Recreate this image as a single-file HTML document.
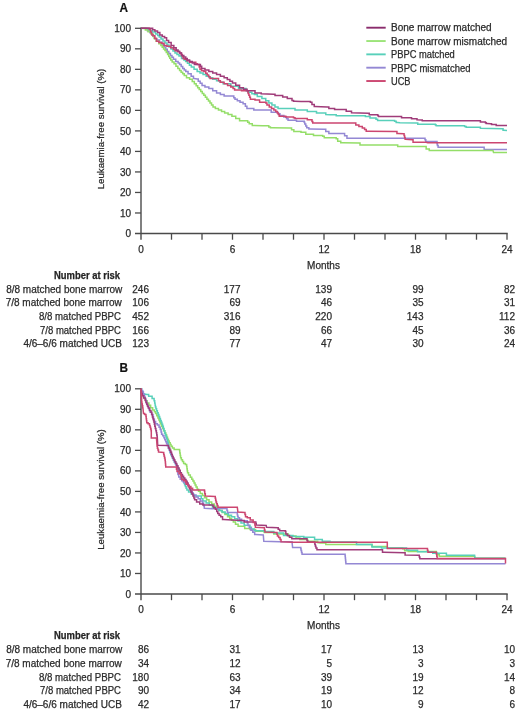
<!DOCTYPE html>
<html><head><meta charset="utf-8"><style>
html,body{margin:0;padding:0;background:#fff;}
svg{display:block;font-family:"Liberation Sans",sans-serif;will-change:transform;}
text{stroke:#2b2b2b;stroke-width:0.25px;}
</style></head><body>
<svg width="520" height="713" viewBox="0 0 520 713">
<rect width="520" height="713" fill="#fff"/>
<g transform="translate(0,0)">
<text transform="translate(119.6,11.6) scale(0.88,1)" x="0" y="0" font-weight="bold" font-size="13.4" fill="#111">A</text>
<line x1="141.0" y1="27.6" x2="141.0" y2="239.70000000000002" stroke="#4a4a4a" stroke-width="1.4"/>
<line x1="135.0" y1="233.50000000000003" x2="507.7" y2="233.50000000000003" stroke="#4a4a4a" stroke-width="1.4"/>
<line x1="135.0" y1="212.98000000000002" x2="141.0" y2="212.98000000000002" stroke="#4a4a4a" stroke-width="1.3"/>
<line x1="135.0" y1="192.46" x2="141.0" y2="192.46" stroke="#4a4a4a" stroke-width="1.3"/>
<line x1="135.0" y1="171.94000000000003" x2="141.0" y2="171.94000000000003" stroke="#4a4a4a" stroke-width="1.3"/>
<line x1="135.0" y1="151.42000000000002" x2="141.0" y2="151.42000000000002" stroke="#4a4a4a" stroke-width="1.3"/>
<line x1="135.0" y1="130.9" x2="141.0" y2="130.9" stroke="#4a4a4a" stroke-width="1.3"/>
<line x1="135.0" y1="110.38" x2="141.0" y2="110.38" stroke="#4a4a4a" stroke-width="1.3"/>
<line x1="135.0" y1="89.86" x2="141.0" y2="89.86" stroke="#4a4a4a" stroke-width="1.3"/>
<line x1="135.0" y1="69.34" x2="141.0" y2="69.34" stroke="#4a4a4a" stroke-width="1.3"/>
<line x1="135.0" y1="48.82" x2="141.0" y2="48.82" stroke="#4a4a4a" stroke-width="1.3"/>
<line x1="135.0" y1="28.3" x2="141.0" y2="28.3" stroke="#4a4a4a" stroke-width="1.3"/>
<text x="131" y="237.10000000000002" text-anchor="end" font-size="10" fill="#2b2b2b">0</text>
<text x="131" y="216.58" text-anchor="end" font-size="10" fill="#2b2b2b">10</text>
<text x="131" y="196.06" text-anchor="end" font-size="10" fill="#2b2b2b">20</text>
<text x="131" y="175.54000000000002" text-anchor="end" font-size="10" fill="#2b2b2b">30</text>
<text x="131" y="155.02" text-anchor="end" font-size="10" fill="#2b2b2b">40</text>
<text x="131" y="134.5" text-anchor="end" font-size="10" fill="#2b2b2b">50</text>
<text x="131" y="113.97999999999999" text-anchor="end" font-size="10" fill="#2b2b2b">60</text>
<text x="131" y="93.46" text-anchor="end" font-size="10" fill="#2b2b2b">70</text>
<text x="131" y="72.94" text-anchor="end" font-size="10" fill="#2b2b2b">80</text>
<text x="131" y="52.42" text-anchor="end" font-size="10" fill="#2b2b2b">90</text>
<text x="131" y="31.900000000000002" text-anchor="end" font-size="10" fill="#2b2b2b">100</text>
<line x1="171.5" y1="233.50000000000003" x2="171.5" y2="239.70000000000002" stroke="#4a4a4a" stroke-width="1.3"/>
<line x1="202.0" y1="233.50000000000003" x2="202.0" y2="239.70000000000002" stroke="#4a4a4a" stroke-width="1.3"/>
<line x1="232.5" y1="233.50000000000003" x2="232.5" y2="239.70000000000002" stroke="#4a4a4a" stroke-width="1.3"/>
<line x1="263.0" y1="233.50000000000003" x2="263.0" y2="239.70000000000002" stroke="#4a4a4a" stroke-width="1.3"/>
<line x1="293.5" y1="233.50000000000003" x2="293.5" y2="239.70000000000002" stroke="#4a4a4a" stroke-width="1.3"/>
<line x1="324.0" y1="233.50000000000003" x2="324.0" y2="239.70000000000002" stroke="#4a4a4a" stroke-width="1.3"/>
<line x1="354.5" y1="233.50000000000003" x2="354.5" y2="239.70000000000002" stroke="#4a4a4a" stroke-width="1.3"/>
<line x1="385.0" y1="233.50000000000003" x2="385.0" y2="239.70000000000002" stroke="#4a4a4a" stroke-width="1.3"/>
<line x1="415.5" y1="233.50000000000003" x2="415.5" y2="239.70000000000002" stroke="#4a4a4a" stroke-width="1.3"/>
<line x1="446.0" y1="233.50000000000003" x2="446.0" y2="239.70000000000002" stroke="#4a4a4a" stroke-width="1.3"/>
<line x1="476.5" y1="233.50000000000003" x2="476.5" y2="239.70000000000002" stroke="#4a4a4a" stroke-width="1.3"/>
<line x1="507.0" y1="233.50000000000003" x2="507.0" y2="239.70000000000002" stroke="#4a4a4a" stroke-width="1.3"/>
<text x="141.0" y="252.5" text-anchor="middle" font-size="10" fill="#2b2b2b">0</text>
<text x="232.5" y="252.5" text-anchor="middle" font-size="10" fill="#2b2b2b">6</text>
<text x="324.0" y="252.5" text-anchor="middle" font-size="10" fill="#2b2b2b">12</text>
<text x="415.5" y="252.5" text-anchor="middle" font-size="10" fill="#2b2b2b">18</text>
<text x="507.0" y="252.5" text-anchor="middle" font-size="10" fill="#2b2b2b">24</text>
<text x="323.5" y="268.5" text-anchor="middle" font-size="10" fill="#2b2b2b">Months</text>
<text x="120" y="278.8" text-anchor="end" font-size="10" font-weight="bold" fill="#222" textLength="66" lengthAdjust="spacingAndGlyphs">Number at risk</text>
<text x="122.3" y="292.7" text-anchor="end" font-size="10" fill="#2b2b2b">8/8 matched bone marrow</text>
<text x="149.0" y="292.7" text-anchor="end" font-size="10" fill="#2b2b2b">246</text>
<text x="240.5" y="292.7" text-anchor="end" font-size="10" fill="#2b2b2b">177</text>
<text x="332.0" y="292.7" text-anchor="end" font-size="10" fill="#2b2b2b">139</text>
<text x="423.5" y="292.7" text-anchor="end" font-size="10" fill="#2b2b2b">99</text>
<text x="515.0" y="292.7" text-anchor="end" font-size="10" fill="#2b2b2b">82</text>
<text x="121.8" y="306.34999999999997" text-anchor="end" font-size="10" fill="#2b2b2b">7/8 matched bone marrow</text>
<text x="149.0" y="306.34999999999997" text-anchor="end" font-size="10" fill="#2b2b2b">106</text>
<text x="240.5" y="306.34999999999997" text-anchor="end" font-size="10" fill="#2b2b2b">69</text>
<text x="332.0" y="306.34999999999997" text-anchor="end" font-size="10" fill="#2b2b2b">46</text>
<text x="423.5" y="306.34999999999997" text-anchor="end" font-size="10" fill="#2b2b2b">35</text>
<text x="515.0" y="306.34999999999997" text-anchor="end" font-size="10" fill="#2b2b2b">31</text>
<text x="121" y="320.0" text-anchor="end" font-size="10" fill="#2b2b2b" textLength="82" lengthAdjust="spacingAndGlyphs">8/8 matched PBPC</text>
<text x="149.0" y="320.0" text-anchor="end" font-size="10" fill="#2b2b2b">452</text>
<text x="240.5" y="320.0" text-anchor="end" font-size="10" fill="#2b2b2b">316</text>
<text x="332.0" y="320.0" text-anchor="end" font-size="10" fill="#2b2b2b">220</text>
<text x="423.5" y="320.0" text-anchor="end" font-size="10" fill="#2b2b2b">143</text>
<text x="515.0" y="320.0" text-anchor="end" font-size="10" fill="#2b2b2b">112</text>
<text x="121" y="333.65" text-anchor="end" font-size="10" fill="#2b2b2b" textLength="81" lengthAdjust="spacingAndGlyphs">7/8 matched PBPC</text>
<text x="149.0" y="333.65" text-anchor="end" font-size="10" fill="#2b2b2b">166</text>
<text x="240.5" y="333.65" text-anchor="end" font-size="10" fill="#2b2b2b">89</text>
<text x="332.0" y="333.65" text-anchor="end" font-size="10" fill="#2b2b2b">66</text>
<text x="423.5" y="333.65" text-anchor="end" font-size="10" fill="#2b2b2b">45</text>
<text x="515.0" y="333.65" text-anchor="end" font-size="10" fill="#2b2b2b">36</text>
<text x="121.8" y="347.3" text-anchor="end" font-size="10" fill="#2b2b2b">4/6–6/6 matched UCB</text>
<text x="149.0" y="347.3" text-anchor="end" font-size="10" fill="#2b2b2b">123</text>
<text x="240.5" y="347.3" text-anchor="end" font-size="10" fill="#2b2b2b">77</text>
<text x="332.0" y="347.3" text-anchor="end" font-size="10" fill="#2b2b2b">47</text>
<text x="423.5" y="347.3" text-anchor="end" font-size="10" fill="#2b2b2b">30</text>
<text x="515.0" y="347.3" text-anchor="end" font-size="10" fill="#2b2b2b">24</text>
<text transform="translate(103.8,129) rotate(-90)" text-anchor="middle" font-size="9.7" fill="#2b2b2b">Leukaemia-free survival (%)</text>
</g>
<path d="M141.00,28.30 146.00,28.30 146.00,29.00 147.50,29.00 147.50,31.00 149.00,31.00 149.88,31.00 149.88,32.80 151.62,32.80 151.62,34.60 152.50,34.60 153.22,34.60 153.22,36.55 154.68,36.55 154.68,38.50 155.40,38.50 156.70,38.50 156.70,40.00 158.00,40.00 159.50,40.00 159.50,42.30 161.00,42.30 162.00,42.30 162.00,44.65 164.00,44.65 164.00,47.00 165.00,47.00 165.75,47.00 165.75,49.25 167.25,49.25 167.25,51.50 168.00,51.50 168.80,51.50 168.80,53.45 170.40,53.45 170.40,55.40 171.20,55.40 171.95,55.40 171.95,57.30 173.45,57.30 173.45,59.20 174.20,59.20 175.75,59.20 175.75,61.50 177.30,61.50 178.08,61.50 178.08,63.05 179.62,63.05 179.62,64.60 180.40,64.60 181.18,64.60 181.18,66.55 182.72,66.55 182.72,68.50 183.50,68.50 184.25,68.50 184.25,70.00 185.75,70.00 185.75,71.50 186.50,71.50 188.05,71.50 188.05,73.80 189.60,73.80 191.15,73.80 191.15,76.20 192.70,76.20 193.45,76.20 193.45,78.50 194.20,78.50 197.30,79.00 198.25,79.00 198.25,81.13 200.15,81.13 200.15,83.27 202.05,83.27 202.05,85.40 203.00,85.40 204.95,85.40 204.95,86.95 208.85,86.95 208.85,88.50 210.80,88.50 212.73,88.50 212.73,90.75 216.57,90.75 216.57,93.00 218.50,93.00 220.38,93.00 220.38,94.50 224.12,94.50 224.12,96.00 226.00,96.00 233.80,96.00 233.80,97.70 234.98,97.70 234.98,99.25 237.32,99.25 237.32,100.80 238.50,100.80 240.03,100.80 240.03,102.30 243.07,102.30 243.07,103.80 244.60,103.80 245.38,103.80 245.38,106.15 246.92,106.15 246.92,108.50 247.70,108.50 253.80,108.50 253.80,110.00 270.40,110.00 271.20,110.00 271.20,112.30 272.00,112.30 278.00,112.30 278.00,113.80 279.95,113.80 279.95,115.40 283.85,115.40 283.85,117.00 285.80,117.00 286.55,117.00 286.55,118.65 288.05,118.65 288.05,120.30 288.80,120.30 296.50,120.30 296.50,121.20 304.20,121.20 304.20,122.30 304.72,122.30 304.72,124.10 305.75,124.10 305.75,125.90 306.78,125.90 306.78,127.70 307.30,127.70 308.85,127.70 308.85,129.00 310.40,129.00 324.20,129.20 325.75,129.20 325.75,131.50 327.30,131.50 328.85,131.50 328.85,133.50 330.40,133.50 343.80,133.50 344.60,133.50 344.60,135.80 345.40,135.80 346.95,135.80 346.95,138.20 348.50,138.20 424.60,138.20 425.00,138.20 425.00,139.85 425.80,139.85 425.80,141.50 426.20,141.50 437.00,141.50 437.00,143.80 437.38,143.80 437.38,145.50 438.12,145.50 438.12,147.20 438.50,147.20 483.80,147.20 484.15,147.20 484.15,149.60 484.50,149.60 507.00,149.60" fill="none" stroke="#9488d4" stroke-width="1.5" stroke-linejoin="miter"/>
<path d="M141.00,28.30 144.00,28.40 145.35,28.40 145.35,30.00 146.70,30.00 148.05,30.00 148.05,31.70 149.40,31.70 150.75,31.70 150.75,33.70 152.10,33.70 152.78,33.70 152.78,36.10 154.12,36.10 154.12,38.50 154.80,38.50 156.15,38.50 156.15,41.20 157.50,41.20 158.85,41.20 158.85,43.80 160.20,43.80 160.88,43.80 160.88,45.50 162.22,45.50 162.22,47.20 162.90,47.20 163.57,47.20 163.57,48.90 164.93,48.90 164.93,50.60 165.60,50.60 166.28,50.60 166.28,52.60 167.62,52.60 167.62,54.60 168.30,54.60 168.78,54.60 168.78,56.40 169.75,56.40 169.75,58.20 170.72,58.20 170.72,60.00 171.20,60.00 172.15,60.00 172.15,61.90 174.05,61.90 174.05,63.80 175.00,63.80 175.95,63.80 175.95,66.15 177.85,66.15 177.85,68.50 178.80,68.50 179.58,68.50 179.58,70.40 181.12,70.40 181.12,72.30 181.90,72.30 182.68,72.30 182.68,73.85 184.22,73.85 184.22,75.40 185.00,75.40 186.50,75.40 186.50,77.70 188.00,77.70 189.60,77.70 189.60,79.20 191.20,79.20 192.25,79.20 192.25,81.50 194.35,81.50 194.35,83.80 195.40,83.80 196.16,83.80 196.16,85.72 197.69,85.72 197.69,87.65 199.21,87.65 199.21,89.58 200.74,89.58 200.74,91.50 201.50,91.50 202.28,91.50 202.28,93.42 203.82,93.42 203.82,95.35 205.38,95.35 205.38,97.28 206.92,97.28 206.92,99.20 207.70,99.20 208.46,99.20 208.46,101.12 209.99,101.12 209.99,103.05 211.51,103.05 211.51,104.98 213.04,104.98 213.04,106.90 213.80,106.90 215.35,106.90 215.35,108.45 218.45,108.45 218.45,110.00 220.00,110.00 221.55,110.00 221.55,111.50 224.65,111.50 224.65,113.00 226.20,113.00 228.10,113.00 228.10,114.60 231.90,114.60 231.90,116.20 233.80,116.20 235.73,116.20 235.73,118.50 239.57,118.50 239.57,120.80 241.50,120.80 247.70,120.80 247.70,122.30 249.22,122.30 249.22,123.85 252.28,123.85 252.28,125.40 253.80,125.40 262.70,125.80 268.80,125.80 268.80,127.00 270.40,127.00 270.40,127.70 272.00,127.70 290.40,128.00 291.55,128.00 291.55,129.75 293.85,129.75 293.85,131.50 295.00,131.50 301.00,131.50 301.00,132.30 305.80,132.30 305.80,134.20 313.50,134.20 313.50,135.40 322.70,135.40 322.70,136.20 324.25,136.20 324.25,137.70 325.80,137.70 330.00,137.80 336.20,137.80 336.20,138.80 337.70,138.80 337.70,141.20 339.20,141.20 340.75,141.20 340.75,142.70 342.30,142.70 359.20,143.00 360.00,143.00 360.00,145.00 360.80,145.00 396.20,145.00 397.70,145.00 397.70,146.50 399.20,146.50 424.60,146.50 426.15,146.50 426.15,149.00 427.70,149.00 429.25,149.00 429.25,150.50 430.80,150.50 493.00,150.50 493.50,152.50 507.00,152.50" fill="none" stroke="#94de68" stroke-width="1.5" stroke-linejoin="miter"/>
<path d="M141.00,28.30 148.00,28.30 148.00,29.00 149.50,29.00 149.50,30.50 151.00,30.50 152.50,30.50 152.50,32.00 154.00,32.00 155.50,32.00 155.50,34.00 157.00,34.00 157.75,34.00 157.75,35.50 159.25,35.50 159.25,37.00 160.00,37.00 161.00,37.00 161.00,39.00 163.00,39.00 163.00,41.00 164.00,41.00 165.00,41.00 165.00,43.00 167.00,43.00 167.00,45.00 168.00,45.00 169.00,45.00 169.00,47.00 171.00,47.00 171.00,49.00 172.00,49.00 173.00,49.00 173.00,51.00 175.00,51.00 175.00,53.00 176.00,53.00 177.00,53.00 177.00,54.50 179.00,54.50 179.00,56.00 180.00,56.00 181.50,56.00 181.50,58.50 183.00,58.50 183.88,58.50 183.88,60.00 185.62,60.00 185.62,61.50 186.50,61.50 187.47,61.50 187.47,63.33 189.40,63.33 189.40,65.17 191.33,65.17 191.33,67.00 192.30,67.00 194.05,67.00 194.05,69.20 195.80,69.20 197.15,69.20 197.15,71.50 198.50,71.50 200.03,71.50 200.03,73.05 203.07,73.05 203.07,74.60 204.60,74.60 206.15,74.60 206.15,76.15 209.25,76.15 209.25,77.70 210.80,77.70 212.73,77.70 212.73,79.25 216.57,79.25 216.57,80.80 218.50,80.80 220.03,80.80 220.03,82.30 223.07,82.30 223.07,83.80 224.60,83.80 230.80,83.80 230.80,86.20 238.50,86.20 238.50,88.50 246.00,88.50 246.00,90.80 247.95,90.80 247.95,92.30 251.85,92.30 251.85,93.80 253.80,93.80 254.40,93.80 254.40,94.60 255.00,94.60 257.30,94.60 257.30,96.55 261.90,96.55 261.90,98.50 264.20,98.50 265.75,98.50 265.75,100.75 268.85,100.75 268.85,103.00 270.40,103.00 271.92,103.00 271.92,105.00 274.98,105.00 274.98,107.00 276.50,107.00 278.05,107.00 278.05,108.50 279.60,108.50 295.00,108.50 295.00,110.00 307.30,110.00 307.30,111.50 316.50,111.50 316.50,113.00 325.80,113.00 325.80,114.60 330.00,114.70 336.20,114.70 336.20,115.80 365.40,115.80 365.40,116.50 370.00,116.50 370.00,118.00 376.00,118.00 376.00,119.30 377.60,119.30 377.60,120.40 379.20,120.40 394.60,120.40 394.60,121.20 396.15,121.20 396.15,122.40 397.70,122.40 400.00,122.80 417.00,123.00 417.75,123.00 417.75,124.30 418.50,124.30 435.40,124.30 435.40,125.00 436.20,125.00 436.20,125.80 437.00,125.80 464.60,125.80 464.60,126.50 466.15,126.50 466.15,127.30 467.70,127.30 480.00,127.30 480.40,127.30 480.40,128.30 480.80,128.30 502.30,128.80 503.05,128.80 503.05,130.20 503.80,130.20 507.00,130.40" fill="none" stroke="#58d0ba" stroke-width="1.5" stroke-linejoin="miter"/>
<path d="M141.00,28.30 148.50,28.30 149.25,28.30 149.25,29.60 150.00,29.60 150.60,29.60 150.60,32.00 151.20,32.00 151.42,32.00 151.42,33.55 151.88,33.55 151.88,35.10 152.10,35.10 153.10,35.10 153.10,35.80 154.10,35.80 154.80,35.80 154.80,38.50 155.50,38.50 156.50,38.50 156.50,41.20 157.50,41.20 158.85,41.20 158.85,42.50 160.20,42.50 161.60,42.50 161.60,43.30 163.00,43.30 164.00,43.30 164.00,45.40 165.00,45.40 166.90,45.40 166.90,46.20 168.80,46.20 170.75,46.20 170.75,47.70 172.70,47.70 173.47,47.70 173.47,49.25 175.03,49.25 175.03,50.80 175.80,50.80 177.30,50.80 177.30,51.50 178.80,51.50 179.58,51.50 179.58,53.05 181.12,53.05 181.12,54.60 181.90,54.60 182.30,54.60 182.30,56.55 183.10,56.55 183.10,58.50 183.50,58.50 184.65,58.50 184.65,59.20 185.80,59.20 186.90,59.20 186.90,60.80 188.00,60.80 189.60,60.80 189.60,62.30 191.20,62.30 195.80,62.30 195.80,63.80 197.30,63.80 197.30,64.60 198.80,64.60 199.20,64.60 199.20,66.90 200.00,66.90 200.00,69.20 200.40,69.20 201.55,69.20 201.55,70.80 202.70,70.80 203.85,70.80 203.85,71.50 205.00,71.50 205.72,71.50 205.72,73.25 207.18,73.25 207.18,75.00 208.62,75.00 208.62,76.75 210.08,76.75 210.08,78.50 210.80,78.50 218.50,78.50 218.50,80.80 220.38,80.80 220.38,82.30 224.12,82.30 224.12,83.80 226.00,83.80 227.57,83.80 227.57,85.40 230.73,85.40 230.73,87.00 232.30,87.00 233.08,87.00 233.08,88.50 234.62,88.50 234.62,90.00 235.40,90.00 241.50,90.00 241.50,90.80 247.70,90.80 247.70,91.50 248.09,91.50 248.09,93.42 248.86,93.42 248.86,95.35 249.64,95.35 249.64,97.28 250.41,97.28 250.41,99.20 250.80,99.20 255.00,99.20 255.00,100.00 259.60,100.00 259.60,102.30 265.80,102.30 265.80,103.00 266.95,103.00 266.95,105.00 269.25,105.00 269.25,107.00 270.40,107.00 271.55,107.00 271.55,108.50 273.85,108.50 273.85,110.00 275.00,110.00 275.75,110.00 275.75,111.50 277.25,111.50 277.25,113.00 278.00,113.00 278.40,113.00 278.40,114.60 279.20,114.60 279.20,116.20 279.60,116.20 285.80,116.20 285.80,117.00 293.50,117.00 293.50,117.70 295.00,117.70 295.00,118.50 296.50,118.50 307.30,118.50 307.30,119.70 312.00,119.70 312.00,121.50 312.75,121.50 312.75,123.00 313.50,123.00 354.60,123.00 355.80,123.00 355.80,125.00 357.00,125.00 358.90,125.00 358.90,126.50 360.80,126.50 362.30,126.50 362.30,128.00 363.80,128.00 364.60,128.00 364.60,129.60 366.20,129.60 366.20,131.20 367.00,131.20 396.20,131.50 396.95,131.50 396.95,133.50 397.70,133.50 403.80,133.80 404.07,133.80 404.07,135.60 404.60,135.60 404.60,137.40 405.13,137.40 405.13,139.20 405.40,139.20 412.30,139.70 413.05,139.70 413.05,142.30 413.80,142.30 426.20,142.30 427.70,142.80 507.00,142.80" fill="none" stroke="#cc4670" stroke-width="1.5" stroke-linejoin="miter"/>
<path d="M141.00,28.30 151.80,28.30 152.65,28.30 152.65,29.70 153.50,29.70 154.85,29.70 154.85,31.00 156.20,31.00 157.50,31.00 157.50,32.40 158.80,32.40 159.85,32.40 159.85,35.10 160.90,35.10 162.25,35.10 162.25,36.40 163.60,36.40 164.60,36.40 164.60,37.80 165.60,37.80 166.60,37.80 166.60,40.50 167.60,40.50 168.60,40.50 168.60,42.50 169.60,42.50 171.15,42.50 171.15,45.40 172.70,45.40 173.85,45.40 173.85,47.70 175.00,47.70 176.15,47.70 176.15,50.00 177.30,50.00 178.08,50.00 178.08,51.50 179.62,51.50 179.62,53.00 180.40,53.00 181.55,53.00 181.55,55.40 182.70,55.40 183.85,55.40 183.85,57.00 185.00,57.00 185.75,57.00 185.75,58.50 187.25,58.50 187.25,60.00 188.00,60.00 189.60,60.00 189.60,61.50 191.20,61.50 192.25,61.50 192.25,63.05 194.35,63.05 194.35,64.60 195.40,64.60 200.40,64.60 200.40,66.20 201.70,66.20 201.70,68.50 203.00,68.50 204.95,68.50 204.95,70.00 208.85,70.00 208.85,71.50 210.80,71.50 212.73,71.50 212.73,73.05 216.57,73.05 216.57,74.60 218.50,74.60 220.38,74.60 220.38,76.15 224.12,76.15 224.12,77.70 226.00,77.70 227.30,77.70 227.30,79.47 229.90,79.47 229.90,81.23 232.50,81.23 232.50,83.00 233.80,83.00 235.73,83.00 235.73,85.35 239.57,85.35 239.57,87.70 241.50,87.70 243.38,87.70 243.38,89.25 247.12,89.25 247.12,90.80 249.00,90.80 255.00,90.80 255.00,93.10 261.20,93.10 261.20,93.80 273.50,94.20 275.00,94.20 275.00,95.40 276.50,95.40 282.70,95.40 282.70,97.00 287.30,97.00 287.30,98.50 292.00,98.50 292.00,100.50 293.50,100.50 293.50,101.20 295.00,101.20 301.00,101.50 310.40,101.50 310.40,102.30 311.95,102.30 311.95,104.60 313.50,104.60 314.25,104.60 314.25,106.50 315.00,106.50 327.30,107.00 328.85,107.00 328.85,108.50 330.40,108.50 334.60,108.50 334.60,109.60 345.40,109.60 346.20,109.60 346.20,111.20 347.00,111.20 351.50,111.20 351.50,112.70 368.50,113.20 369.25,113.20 369.25,114.70 370.00,114.70 377.70,114.70 377.70,115.50 378.45,115.50 378.45,116.50 379.20,116.50 400.80,116.50 401.55,116.50 401.55,117.80 402.30,117.80 410.80,117.70 411.55,117.70 411.55,118.80 412.30,118.80 417.00,118.80 417.00,119.70 421.50,120.00 422.25,120.00 422.25,120.80 423.00,120.80 480.00,120.80 480.40,120.80 480.40,121.90 480.80,121.90 485.40,121.90 485.40,122.70 486.20,122.70 486.20,123.50 487.00,123.50 490.80,123.80 491.55,123.80 491.55,124.60 492.30,124.60 495.40,124.60 496.20,124.60 496.20,125.40 497.00,125.40 507.00,125.40" fill="none" stroke="#a03c7a" stroke-width="1.5" stroke-linejoin="miter"/>
<line x1="366.3" y1="27.7" x2="385.7" y2="27.7" stroke="#8a2c6c" stroke-width="1.9"/>
<text x="391" y="31.0" font-size="10" fill="#2b2b2b">Bone marrow matched</text>
<line x1="366.3" y1="41.03" x2="385.7" y2="41.03" stroke="#9ce47a" stroke-width="1.9"/>
<text x="391" y="44.5" font-size="10" fill="#2b2b2b">Bone marrow mismatched</text>
<line x1="366.3" y1="54.36" x2="385.7" y2="54.36" stroke="#58d0ba" stroke-width="1.9"/>
<text x="391" y="58.0" font-size="10" fill="#2b2b2b" textLength="63.8" lengthAdjust="spacingAndGlyphs">PBPC matched</text>
<line x1="366.3" y1="67.69" x2="385.7" y2="67.69" stroke="#9488d4" stroke-width="1.9"/>
<text x="391" y="71.5" font-size="10" fill="#2b2b2b" textLength="79.5" lengthAdjust="spacingAndGlyphs">PBPC mismatched</text>
<line x1="366.3" y1="81.02" x2="385.7" y2="81.02" stroke="#cc4670" stroke-width="1.9"/>
<text x="391" y="85.0" font-size="10" fill="#2b2b2b" textLength="19.5" lengthAdjust="spacingAndGlyphs">UCB</text>
<g transform="translate(0,360.5)">
<text transform="translate(119.6,11.6) scale(0.88,1)" x="0" y="0" font-weight="bold" font-size="13.4" fill="#111">B</text>
<line x1="141.0" y1="27.6" x2="141.0" y2="239.70000000000002" stroke="#4a4a4a" stroke-width="1.4"/>
<line x1="135.0" y1="233.50000000000003" x2="507.7" y2="233.50000000000003" stroke="#4a4a4a" stroke-width="1.4"/>
<line x1="135.0" y1="212.98000000000002" x2="141.0" y2="212.98000000000002" stroke="#4a4a4a" stroke-width="1.3"/>
<line x1="135.0" y1="192.46" x2="141.0" y2="192.46" stroke="#4a4a4a" stroke-width="1.3"/>
<line x1="135.0" y1="171.94000000000003" x2="141.0" y2="171.94000000000003" stroke="#4a4a4a" stroke-width="1.3"/>
<line x1="135.0" y1="151.42000000000002" x2="141.0" y2="151.42000000000002" stroke="#4a4a4a" stroke-width="1.3"/>
<line x1="135.0" y1="130.9" x2="141.0" y2="130.9" stroke="#4a4a4a" stroke-width="1.3"/>
<line x1="135.0" y1="110.38" x2="141.0" y2="110.38" stroke="#4a4a4a" stroke-width="1.3"/>
<line x1="135.0" y1="89.86" x2="141.0" y2="89.86" stroke="#4a4a4a" stroke-width="1.3"/>
<line x1="135.0" y1="69.34" x2="141.0" y2="69.34" stroke="#4a4a4a" stroke-width="1.3"/>
<line x1="135.0" y1="48.82" x2="141.0" y2="48.82" stroke="#4a4a4a" stroke-width="1.3"/>
<line x1="135.0" y1="28.3" x2="141.0" y2="28.3" stroke="#4a4a4a" stroke-width="1.3"/>
<text x="131" y="237.10000000000002" text-anchor="end" font-size="10" fill="#2b2b2b">0</text>
<text x="131" y="216.58" text-anchor="end" font-size="10" fill="#2b2b2b">10</text>
<text x="131" y="196.06" text-anchor="end" font-size="10" fill="#2b2b2b">20</text>
<text x="131" y="175.54000000000002" text-anchor="end" font-size="10" fill="#2b2b2b">30</text>
<text x="131" y="155.02" text-anchor="end" font-size="10" fill="#2b2b2b">40</text>
<text x="131" y="134.5" text-anchor="end" font-size="10" fill="#2b2b2b">50</text>
<text x="131" y="113.97999999999999" text-anchor="end" font-size="10" fill="#2b2b2b">60</text>
<text x="131" y="93.46" text-anchor="end" font-size="10" fill="#2b2b2b">70</text>
<text x="131" y="72.94" text-anchor="end" font-size="10" fill="#2b2b2b">80</text>
<text x="131" y="52.42" text-anchor="end" font-size="10" fill="#2b2b2b">90</text>
<text x="131" y="31.900000000000002" text-anchor="end" font-size="10" fill="#2b2b2b">100</text>
<line x1="171.5" y1="233.50000000000003" x2="171.5" y2="239.70000000000002" stroke="#4a4a4a" stroke-width="1.3"/>
<line x1="202.0" y1="233.50000000000003" x2="202.0" y2="239.70000000000002" stroke="#4a4a4a" stroke-width="1.3"/>
<line x1="232.5" y1="233.50000000000003" x2="232.5" y2="239.70000000000002" stroke="#4a4a4a" stroke-width="1.3"/>
<line x1="263.0" y1="233.50000000000003" x2="263.0" y2="239.70000000000002" stroke="#4a4a4a" stroke-width="1.3"/>
<line x1="293.5" y1="233.50000000000003" x2="293.5" y2="239.70000000000002" stroke="#4a4a4a" stroke-width="1.3"/>
<line x1="324.0" y1="233.50000000000003" x2="324.0" y2="239.70000000000002" stroke="#4a4a4a" stroke-width="1.3"/>
<line x1="354.5" y1="233.50000000000003" x2="354.5" y2="239.70000000000002" stroke="#4a4a4a" stroke-width="1.3"/>
<line x1="385.0" y1="233.50000000000003" x2="385.0" y2="239.70000000000002" stroke="#4a4a4a" stroke-width="1.3"/>
<line x1="415.5" y1="233.50000000000003" x2="415.5" y2="239.70000000000002" stroke="#4a4a4a" stroke-width="1.3"/>
<line x1="446.0" y1="233.50000000000003" x2="446.0" y2="239.70000000000002" stroke="#4a4a4a" stroke-width="1.3"/>
<line x1="476.5" y1="233.50000000000003" x2="476.5" y2="239.70000000000002" stroke="#4a4a4a" stroke-width="1.3"/>
<line x1="507.0" y1="233.50000000000003" x2="507.0" y2="239.70000000000002" stroke="#4a4a4a" stroke-width="1.3"/>
<text x="141.0" y="252.5" text-anchor="middle" font-size="10" fill="#2b2b2b">0</text>
<text x="232.5" y="252.5" text-anchor="middle" font-size="10" fill="#2b2b2b">6</text>
<text x="324.0" y="252.5" text-anchor="middle" font-size="10" fill="#2b2b2b">12</text>
<text x="415.5" y="252.5" text-anchor="middle" font-size="10" fill="#2b2b2b">18</text>
<text x="507.0" y="252.5" text-anchor="middle" font-size="10" fill="#2b2b2b">24</text>
<text x="323.5" y="268.5" text-anchor="middle" font-size="10" fill="#2b2b2b">Months</text>
<text x="120" y="278.8" text-anchor="end" font-size="10" font-weight="bold" fill="#222" textLength="66" lengthAdjust="spacingAndGlyphs">Number at risk</text>
<text x="122.3" y="292.7" text-anchor="end" font-size="10" fill="#2b2b2b">8/8 matched bone marrow</text>
<text x="149.0" y="292.7" text-anchor="end" font-size="10" fill="#2b2b2b">86</text>
<text x="240.5" y="292.7" text-anchor="end" font-size="10" fill="#2b2b2b">31</text>
<text x="332.0" y="292.7" text-anchor="end" font-size="10" fill="#2b2b2b">17</text>
<text x="423.5" y="292.7" text-anchor="end" font-size="10" fill="#2b2b2b">13</text>
<text x="515.0" y="292.7" text-anchor="end" font-size="10" fill="#2b2b2b">10</text>
<text x="121.8" y="306.34999999999997" text-anchor="end" font-size="10" fill="#2b2b2b">7/8 matched bone marrow</text>
<text x="149.0" y="306.34999999999997" text-anchor="end" font-size="10" fill="#2b2b2b">34</text>
<text x="240.5" y="306.34999999999997" text-anchor="end" font-size="10" fill="#2b2b2b">12</text>
<text x="332.0" y="306.34999999999997" text-anchor="end" font-size="10" fill="#2b2b2b">5</text>
<text x="423.5" y="306.34999999999997" text-anchor="end" font-size="10" fill="#2b2b2b">3</text>
<text x="515.0" y="306.34999999999997" text-anchor="end" font-size="10" fill="#2b2b2b">3</text>
<text x="121" y="320.0" text-anchor="end" font-size="10" fill="#2b2b2b" textLength="82" lengthAdjust="spacingAndGlyphs">8/8 matched PBPC</text>
<text x="149.0" y="320.0" text-anchor="end" font-size="10" fill="#2b2b2b">180</text>
<text x="240.5" y="320.0" text-anchor="end" font-size="10" fill="#2b2b2b">63</text>
<text x="332.0" y="320.0" text-anchor="end" font-size="10" fill="#2b2b2b">39</text>
<text x="423.5" y="320.0" text-anchor="end" font-size="10" fill="#2b2b2b">19</text>
<text x="515.0" y="320.0" text-anchor="end" font-size="10" fill="#2b2b2b">14</text>
<text x="121" y="333.65" text-anchor="end" font-size="10" fill="#2b2b2b" textLength="81" lengthAdjust="spacingAndGlyphs">7/8 matched PBPC</text>
<text x="149.0" y="333.65" text-anchor="end" font-size="10" fill="#2b2b2b">90</text>
<text x="240.5" y="333.65" text-anchor="end" font-size="10" fill="#2b2b2b">34</text>
<text x="332.0" y="333.65" text-anchor="end" font-size="10" fill="#2b2b2b">19</text>
<text x="423.5" y="333.65" text-anchor="end" font-size="10" fill="#2b2b2b">12</text>
<text x="515.0" y="333.65" text-anchor="end" font-size="10" fill="#2b2b2b">8</text>
<text x="121.8" y="347.3" text-anchor="end" font-size="10" fill="#2b2b2b">4/6–6/6 matched UCB</text>
<text x="149.0" y="347.3" text-anchor="end" font-size="10" fill="#2b2b2b">42</text>
<text x="240.5" y="347.3" text-anchor="end" font-size="10" fill="#2b2b2b">17</text>
<text x="332.0" y="347.3" text-anchor="end" font-size="10" fill="#2b2b2b">10</text>
<text x="423.5" y="347.3" text-anchor="end" font-size="10" fill="#2b2b2b">9</text>
<text x="515.0" y="347.3" text-anchor="end" font-size="10" fill="#2b2b2b">6</text>
<text transform="translate(103.8,129) rotate(-90)" text-anchor="middle" font-size="9.7" fill="#2b2b2b">Leukaemia-free survival (%)</text>
</g>
<path d="M141.00,388.80 141.25,388.80 141.25,390.90 141.75,390.90 141.75,393.00 142.00,393.00 142.43,393.00 142.43,394.83 143.30,394.83 143.30,396.67 144.17,396.67 144.17,398.50 144.60,398.50 145.45,398.50 145.45,400.75 147.15,400.75 147.15,403.00 148.00,403.00 148.88,403.00 148.88,405.35 150.62,405.35 150.62,407.70 151.50,407.70 152.65,407.70 152.65,410.00 153.80,410.00 154.40,410.00 154.40,411.75 155.60,411.75 155.60,413.50 156.20,413.50 156.77,413.50 156.77,415.75 157.93,415.75 157.93,418.00 158.50,418.00 158.88,418.00 158.88,419.93 159.65,419.93 159.65,421.87 160.42,421.87 160.42,423.80 160.80,423.80 161.35,423.80 161.35,426.15 162.45,426.15 162.45,428.50 163.00,428.50 163.60,428.50 163.60,430.75 164.80,430.75 164.80,433.00 165.40,433.00 165.83,433.00 165.83,435.07 166.70,435.07 166.70,437.13 167.57,437.13 167.57,439.20 168.00,439.20 168.44,439.20 168.44,440.95 169.31,440.95 169.31,442.70 170.19,442.70 170.19,444.45 171.06,444.45 171.06,446.20 171.50,446.20 172.38,446.20 172.38,447.90 174.12,447.90 174.12,449.60 175.00,449.60 179.60,449.60 179.60,450.80 179.80,450.80 179.80,453.10 180.20,453.10 180.20,455.40 180.60,455.40 180.60,457.70 180.80,457.70 181.37,457.70 181.37,459.63 182.50,459.63 182.50,461.57 183.63,461.57 183.63,463.50 184.20,463.50 185.35,463.50 185.35,464.60 186.50,464.60 186.65,464.60 186.65,466.62 186.95,466.62 186.95,468.65 187.25,468.65 187.25,470.68 187.55,470.68 187.55,472.70 187.70,472.70 188.57,472.70 188.57,475.00 190.32,475.00 190.32,477.30 191.20,477.30 191.77,477.30 191.77,479.20 192.90,479.20 192.90,481.10 194.03,481.10 194.03,483.00 194.60,483.00 195.07,483.00 195.07,485.00 196.03,485.00 196.03,487.00 196.50,487.00 197.18,487.00 197.18,489.15 198.52,489.15 198.52,491.30 199.20,491.30 200.27,491.30 200.27,493.45 202.43,493.45 202.43,495.60 203.50,495.60 204.55,495.60 204.55,497.70 206.65,497.70 206.65,499.80 207.70,499.80 209.02,499.80 209.02,501.90 211.68,501.90 211.68,504.00 213.00,504.00 214.32,504.00 214.32,506.15 216.98,506.15 216.98,508.30 218.30,508.30 219.62,508.30 219.62,510.40 222.28,510.40 222.28,512.50 223.60,512.50 224.93,512.50 224.93,514.60 227.57,514.60 227.57,516.70 228.90,516.70 229.78,516.70 229.78,518.47 231.55,518.47 231.55,520.23 233.32,520.23 233.32,522.00 234.20,522.00 235.50,522.00 235.50,524.15 238.10,524.15 238.10,526.30 239.40,526.30 244.70,526.30 244.70,528.40 250.00,528.40 250.00,529.40 255.60,529.40 255.60,531.20 264.20,531.20 264.20,532.60 273.80,532.60 273.80,534.00 288.30,534.00 288.30,536.00 296.00,536.00 296.00,538.00 299.88,538.00 299.88,539.60 307.62,539.60 307.62,541.20 311.50,541.20 317.70,541.20 317.70,542.70 320.00,543.00 325.80,543.00 325.80,544.60 356.50,544.60 372.00,544.60 372.00,546.50 387.30,546.50 387.30,547.90 402.70,547.90 402.70,548.80 404.60,548.80 404.60,550.80 406.50,550.80 408.25,550.80 408.25,551.50 410.00,551.50 436.30,551.50 436.30,553.30 437.30,553.30 437.30,554.80 439.30,554.80 439.30,556.30 440.30,556.30 474.60,556.30 475.00,558.20 505.50,558.20" fill="none" stroke="#94de68" stroke-width="1.5" stroke-linejoin="miter"/>
<path d="M141.00,388.80 141.62,388.80 141.62,391.30 142.88,391.30 142.88,393.80 143.50,393.80 146.90,394.40 148.65,394.40 148.65,396.20 150.40,396.20 152.10,396.20 152.10,398.50 153.80,398.50 154.10,398.50 154.10,400.75 154.70,400.75 154.70,403.00 155.00,403.00 155.20,405.40 155.45,405.40 155.45,407.10 155.95,407.10 155.95,408.80 156.20,408.80 156.58,408.80 156.58,410.73 157.35,410.73 157.35,412.67 158.12,412.67 158.12,414.60 158.50,414.60 158.88,414.60 158.88,416.53 159.65,416.53 159.65,418.47 160.42,418.47 160.42,420.40 160.80,420.40 161.17,420.40 161.17,422.33 161.90,422.33 161.90,424.27 162.63,424.27 162.63,426.20 163.00,426.20 163.33,426.20 163.33,428.47 164.00,428.47 164.00,430.73 164.67,430.73 164.67,433.00 165.00,433.00 165.31,433.00 165.31,434.75 165.94,434.75 165.94,436.50 166.56,436.50 166.56,438.25 167.19,438.25 167.19,440.00 167.50,440.00 167.75,440.00 167.75,442.50 168.25,442.50 168.25,445.00 168.50,445.00 168.74,445.00 168.74,447.00 169.21,447.00 169.21,449.00 169.69,449.00 169.69,451.00 170.16,451.00 170.16,453.00 170.40,453.00 170.83,453.00 170.83,454.75 171.68,454.75 171.68,456.50 172.53,456.50 172.53,458.25 173.38,458.25 173.38,460.00 173.80,460.00 174.40,460.00 174.40,462.30 175.60,462.30 175.60,464.60 176.20,464.60 176.77,464.60 176.77,466.90 177.90,466.90 177.90,469.20 179.03,469.20 179.03,471.50 179.60,471.50 180.00,471.50 180.00,473.43 180.80,473.43 180.80,475.37 181.60,475.37 181.60,477.30 182.00,477.30 182.37,477.30 182.37,479.20 183.10,479.20 183.10,481.10 183.83,481.10 183.83,483.00 184.20,483.00 184.59,483.00 184.59,484.75 185.36,484.75 185.36,486.50 186.14,486.50 186.14,488.25 186.91,488.25 186.91,490.00 187.30,490.00 188.58,490.00 188.58,492.00 191.15,492.00 191.15,494.00 193.72,494.00 193.72,496.00 195.00,496.00 201.30,496.00 201.30,498.80 202.90,498.80 202.90,500.90 206.10,500.90 206.10,503.00 207.70,503.00 209.27,503.00 209.27,505.10 212.43,505.10 212.43,507.20 214.00,507.20 215.60,507.20 215.60,508.80 218.80,508.80 218.80,510.40 220.40,510.40 221.97,510.40 221.97,512.00 225.12,512.00 225.12,513.60 226.70,513.60 228.30,513.60 228.30,515.15 231.50,515.15 231.50,516.70 233.10,516.70 234.68,516.70 234.68,518.85 237.82,518.85 237.82,521.00 239.40,521.00 241.00,521.00 241.00,523.10 244.20,523.10 244.20,525.20 245.80,525.20 250.00,525.20 250.00,527.30 251.40,527.30 251.40,529.00 254.20,529.00 254.20,530.70 255.60,530.70 264.20,530.70 264.20,531.60 273.80,531.60 273.80,533.00 283.50,533.00 283.50,535.50 293.00,535.50 293.00,536.50 303.80,536.50 303.80,537.30 314.60,537.30 314.60,539.60 322.30,539.60 322.30,541.20 330.00,541.20 330.00,542.00 356.50,542.00 356.50,544.60 372.00,544.60 372.00,547.00 381.50,547.00 381.50,547.90 406.50,547.90 406.50,549.80 410.00,550.30 417.57,550.30 417.57,551.80 432.73,551.80 432.73,553.30 440.30,553.30 446.40,553.30 446.40,555.30 474.60,555.30 474.60,556.20 475.00,558.00 505.50,558.20" fill="none" stroke="#58d0ba" stroke-width="1.5" stroke-linejoin="miter"/>
<path d="M141.00,388.80 141.50,388.80 141.50,390.40 142.50,390.40 142.50,392.00 143.00,392.00 143.40,392.00 143.40,394.10 144.20,394.10 144.20,396.20 144.60,396.20 144.98,396.20 144.98,398.47 145.75,398.47 145.75,400.73 146.52,400.73 146.52,403.00 146.90,403.00 147.28,403.00 147.28,404.93 148.05,404.93 148.05,406.87 148.82,406.87 148.82,408.80 149.20,408.80 149.50,408.80 149.50,410.55 150.10,410.55 150.10,412.30 150.40,412.30 151.55,412.30 151.55,414.60 152.70,414.60 152.97,414.60 152.97,416.90 153.53,416.90 153.53,419.20 153.80,419.20 154.40,419.20 154.40,421.50 155.60,421.50 155.60,423.80 156.20,423.80 157.35,423.80 157.35,425.00 158.50,425.00 159.07,425.00 159.07,427.30 160.23,427.30 160.23,429.60 160.80,429.60 161.08,429.60 161.08,431.90 161.62,431.90 161.62,434.20 161.90,434.20 162.70,434.20 162.70,435.80 163.50,435.80 163.94,435.80 163.94,437.80 164.81,437.80 164.81,439.80 165.69,439.80 165.69,441.80 166.56,441.80 166.56,443.80 167.00,443.80 167.43,443.80 167.43,445.85 168.28,445.85 168.28,447.90 169.12,447.90 169.12,449.95 169.97,449.95 169.97,452.00 170.40,452.00 170.83,452.00 170.83,454.00 171.68,454.00 171.68,456.00 172.53,456.00 172.53,458.00 173.38,458.00 173.38,460.00 173.80,460.00 174.24,460.00 174.24,461.75 175.11,461.75 175.11,463.50 175.99,463.50 175.99,465.25 176.86,465.25 176.86,467.00 177.30,467.00 177.39,467.00 177.39,468.90 177.56,468.90 177.56,470.80 177.74,470.80 177.74,472.70 177.91,472.70 177.91,474.60 178.00,474.60 178.75,474.60 178.75,476.90 180.25,476.90 180.25,479.20 181.00,479.20 181.80,479.20 181.80,480.75 183.40,480.75 183.40,482.30 184.20,482.30 185.35,482.30 185.35,483.85 187.65,483.85 187.65,485.40 188.80,485.40 189.27,485.40 189.27,487.24 190.21,487.24 190.21,489.08 191.15,489.08 191.15,490.92 192.09,490.92 192.09,492.76 193.03,492.76 193.03,494.60 193.50,494.60 195.00,495.00 196.05,495.00 196.05,496.90 198.15,496.90 198.15,498.80 199.20,498.80 200.27,498.80 200.27,500.90 202.43,500.90 202.43,503.00 203.50,503.00 203.67,503.00 203.67,504.77 204.00,504.77 204.00,506.53 204.33,506.53 204.33,508.30 204.50,508.30 212.00,508.80 226.70,508.30 226.97,508.30 226.97,510.40 227.53,510.40 227.53,512.50 227.80,512.50 237.30,512.50 237.30,514.60 237.58,514.60 237.58,516.20 238.12,516.20 238.12,517.80 238.40,517.80 239.47,517.80 239.47,519.30 241.62,519.30 241.62,520.80 242.70,520.80 247.30,520.80 247.30,523.00 247.98,523.00 247.98,525.50 249.32,525.50 249.32,528.00 250.00,528.00 250.93,528.00 250.93,530.17 252.80,530.17 252.80,532.33 254.67,532.33 254.67,534.50 255.60,534.50 263.30,535.00 263.80,541.30 279.60,541.70 292.10,541.70 292.10,542.70 292.60,547.50 300.80,547.50 300.80,548.80 301.05,548.80 301.05,550.60 301.55,550.60 301.55,552.40 302.05,552.40 302.05,554.20 302.30,554.20 345.00,554.20 345.10,554.20 345.10,556.12 345.30,556.12 345.30,558.04 345.50,558.04 345.50,559.96 345.70,559.96 345.70,561.88 345.90,561.88 345.90,563.80 346.00,563.80 505.50,563.80" fill="none" stroke="#9488d4" stroke-width="1.5" stroke-linejoin="miter"/>
<path d="M141.00,388.80 141.40,392.00 141.68,392.00 141.68,393.85 142.22,393.85 142.22,395.70 142.50,395.70 143.65,395.70 143.65,398.00 144.80,398.00 145.18,398.00 145.18,400.25 145.93,400.25 145.93,402.50 146.30,402.50 146.70,402.50 146.70,404.33 147.50,404.33 147.50,406.17 148.30,406.17 148.30,408.00 148.70,408.00 149.55,408.00 149.55,410.50 150.40,410.50 150.95,410.50 150.95,412.30 151.50,412.30 151.80,412.30 151.80,414.60 152.40,414.60 152.40,416.90 152.70,416.90 152.97,416.90 152.97,418.65 153.53,418.65 153.53,420.40 153.80,420.40 154.00,420.40 154.00,422.33 154.40,422.33 154.40,424.27 154.80,424.27 154.80,426.20 155.00,426.20 155.30,426.20 155.30,428.50 155.90,428.50 155.90,430.80 156.20,430.80 156.38,430.80 156.38,432.87 156.75,432.87 156.75,434.93 157.12,434.93 157.12,437.00 157.30,437.00 157.70,445.30 168.00,445.60 168.60,445.60 168.60,447.90 169.80,447.90 169.80,450.20 170.40,450.20 170.78,450.20 170.78,452.30 171.55,452.30 171.55,454.40 172.32,454.40 172.32,456.50 172.70,456.50 173.14,456.50 173.14,458.25 174.01,458.25 174.01,460.00 174.89,460.00 174.89,461.75 175.76,461.75 175.76,463.50 176.20,463.50 176.77,463.50 176.77,465.75 177.93,465.75 177.93,468.00 178.50,468.00 179.07,468.00 179.07,470.35 180.23,470.35 180.23,472.70 180.80,472.70 181.35,472.70 181.35,474.45 182.45,474.45 182.45,476.20 183.00,476.20 183.60,476.20 183.60,477.90 184.80,477.90 184.80,479.60 185.40,479.60 185.97,479.60 185.97,481.30 187.12,481.30 187.12,483.00 187.70,483.00 188.04,483.00 188.04,484.75 188.71,484.75 188.71,486.50 189.39,486.50 189.39,488.25 190.06,488.25 190.06,490.00 190.40,490.00 190.92,490.00 190.92,492.00 191.95,492.00 191.95,494.00 192.98,494.00 192.98,496.00 193.50,496.00 193.88,496.00 193.88,497.90 194.62,497.90 194.62,499.80 195.00,499.80 196.57,499.80 196.57,501.90 199.73,501.90 199.73,504.00 201.30,504.00 202.90,504.00 202.90,505.10 204.50,505.10 213.00,505.10 213.00,506.20 213.80,506.20 213.80,507.75 215.40,507.75 215.40,509.30 216.20,509.30 216.72,509.30 216.72,511.45 217.78,511.45 217.78,513.60 218.30,513.60 219.10,513.60 219.10,515.15 220.70,515.15 220.70,516.70 221.50,516.70 222.55,516.70 222.55,519.40 223.60,519.40 232.00,519.90 242.60,520.40 244.20,520.40 244.20,522.00 245.80,522.00 249.30,522.00 255.60,522.00 255.82,522.00 255.82,523.50 256.27,523.50 256.27,525.00 256.50,525.00 266.20,525.40 266.60,527.30 277.70,527.80 278.20,527.80 278.20,529.20 278.70,529.20 279.65,529.20 279.65,530.70 280.60,530.70 285.40,530.70 285.40,531.60 285.85,531.60 285.85,534.00 286.30,534.00 287.30,534.00 287.30,535.50 288.30,535.50 289.48,535.50 289.48,537.15 291.82,537.15 291.82,538.80 293.00,538.80 307.00,538.80 307.00,540.70 307.75,540.70 307.75,542.00 308.50,542.00 314.60,542.00 314.60,542.70 314.87,542.70 314.87,544.47 315.40,544.47 315.40,546.23 315.93,546.23 315.93,548.00 316.20,548.00 316.95,548.00 316.95,549.80 317.70,549.80 381.50,549.80 382.50,549.80 382.50,552.30 383.50,552.30 404.60,552.70 405.10,552.70 405.10,555.00 405.60,555.00 419.00,555.30 419.27,555.30 419.27,557.05 419.83,557.05 419.83,558.80 420.10,558.80 505.50,558.80" fill="none" stroke="#a03c7a" stroke-width="1.5" stroke-linejoin="miter"/>
<path d="M141.00,388.80 141.05,388.80 141.05,390.69 141.15,390.69 141.15,392.57 141.25,392.57 141.25,394.46 141.35,394.46 141.35,396.34 141.45,396.34 141.45,398.23 141.55,398.23 141.55,400.11 141.65,400.11 141.65,402.00 141.70,402.00 141.90,402.00 141.90,403.90 142.30,403.90 142.30,405.80 142.70,405.80 142.70,407.70 142.90,407.70 143.50,413.50 144.65,413.50 144.65,414.60 145.80,414.60 145.94,414.60 145.94,416.62 146.21,416.62 146.21,418.65 146.49,418.65 146.49,420.68 146.76,420.68 146.76,422.70 146.90,422.70 148.05,422.70 148.05,423.80 149.20,423.80 149.50,423.80 149.50,425.55 150.10,425.55 150.10,427.30 150.40,427.30 150.62,427.30 150.62,429.05 151.08,429.05 151.08,430.80 151.30,430.80 151.30,438.00 156.50,438.00 156.50,438.70 157.10,446.20 157.38,446.20 157.38,448.13 157.95,448.13 157.95,450.07 158.52,450.07 158.52,452.00 158.80,452.00 163.50,452.50 163.71,452.50 163.71,454.38 164.14,454.38 164.14,456.25 164.56,456.25 164.56,458.12 164.99,458.12 164.99,460.00 165.20,460.00 165.27,460.00 165.27,461.75 165.43,461.75 165.43,463.50 165.57,463.50 165.57,465.25 165.73,465.25 165.73,467.00 165.80,467.00 176.20,467.00 176.47,467.00 176.47,469.25 177.03,469.25 177.03,471.50 177.30,471.50 179.05,471.50 179.05,473.80 180.80,473.80 181.00,473.80 181.00,475.73 181.40,475.73 181.40,477.67 181.80,477.67 181.80,479.60 182.00,479.60 183.70,479.60 183.70,480.80 185.40,480.80 185.68,480.80 185.68,482.50 186.22,482.50 186.22,484.20 186.50,484.20 188.25,484.20 188.25,486.50 190.00,486.50 190.88,486.50 190.88,488.25 192.62,488.25 192.62,490.00 193.50,490.00 204.50,490.00 204.50,491.30 204.78,491.30 204.78,493.70 205.32,493.70 205.32,496.10 205.60,496.10 215.10,496.60 215.28,496.60 215.28,498.37 215.65,498.37 215.65,500.13 216.02,500.13 216.02,501.90 216.20,501.90 216.55,501.90 216.55,503.67 217.25,503.67 217.25,505.43 217.95,505.43 217.95,507.20 218.30,507.20 237.30,507.20 237.90,512.00 244.70,512.50 244.97,512.50 244.97,514.60 245.53,514.60 245.53,516.70 245.80,516.70 247.30,516.70 247.30,517.70 248.80,517.70 250.25,517.70 250.25,520.10 253.15,520.10 253.15,522.50 254.60,522.50 254.85,522.50 254.85,524.90 255.35,524.90 255.35,527.30 255.60,527.30 264.20,527.80 264.45,527.80 264.45,529.95 264.95,529.95 264.95,532.10 265.20,532.10 276.70,532.60 276.95,532.60 276.95,534.30 277.45,534.30 277.45,536.00 277.70,536.00 278.65,536.00 278.65,537.40 279.60,537.40 280.08,537.40 280.08,539.55 281.02,539.55 281.02,541.70 281.50,541.70 293.00,542.20 387.30,542.20 387.30,548.40 427.20,548.40 427.45,548.40 427.45,550.35 427.95,550.35 427.95,552.30 428.20,552.30 436.30,552.30 436.47,552.30 436.47,554.33 436.80,554.33 436.80,556.37 437.13,556.37 437.13,558.40 437.30,558.40 505.50,558.40 505.50,563.50" fill="none" stroke="#cc4670" stroke-width="1.5" stroke-linejoin="miter"/>
</svg>
</body></html>
